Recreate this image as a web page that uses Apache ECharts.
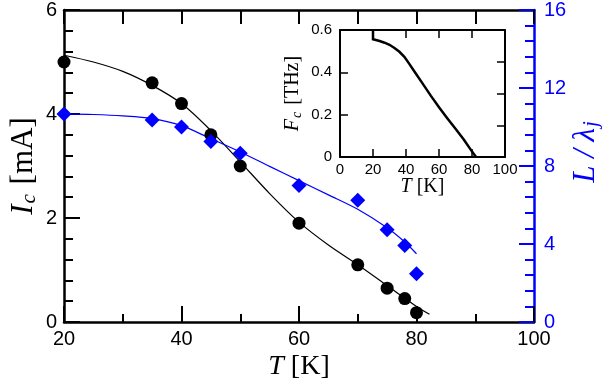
<!DOCTYPE html>
<html>
<head>
<meta charset="utf-8">
<script src="https://cdn.jsdelivr.net/npm/echarts@6/dist/echarts.min.js"></script>
<style>html,body{margin:0;padding:0;background:#fff}#c{width:610px;height:386px}</style>
</head>
<body>
<div id="c"></div>
<script>
// Measured data
var tempIc = [20, 35, 40, 45, 50, 60, 70, 75, 78, 80];
var icValues = [5.0, 4.6, 4.2, 3.6, 3.0, 1.9, 1.1, 0.65, 0.45, 0.18];
var tempL = [20, 35, 40, 45, 50, 60, 70, 75, 78, 80];
var lValues = [10.67, 10.36, 10.0, 9.26, 8.65, 7.0, 6.24, 4.73, 3.92, 2.47];
// Fit curves
var icFitT = [20, 25, 30, 35, 40, 45, 50, 55, 60, 65, 70, 75, 80, 82.2];
var icFitV = [5.13, 5.0, 4.82, 4.55, 4.2, 3.68, 3.08, 2.47, 1.92, 1.48, 1.1, 0.7, 0.3, 0.15];
var lFitT = [20, 25, 30, 35, 40, 45, 50, 55, 60, 65, 70, 75, 78, 80];
var lFitV = [10.67, 10.64, 10.57, 10.43, 10.07, 9.4, 8.72, 7.98, 7.25, 6.52, 5.78, 4.83, 4.1, 3.5];
// Inset curve
var fcT = [20, 20, 24, 27, 30, 33, 36, 39, 42, 45, 50, 55, 60, 65, 70, 75, 79, 81, 82.5];
var fcV = [0.6, 0.556, 0.548, 0.54, 0.53, 0.515, 0.497, 0.473, 0.44, 0.405, 0.348, 0.29, 0.235, 0.183, 0.133, 0.083, 0.037, 0.015, 0];
// Tick settings
var mainXTicks = {min: 20, max: 100, interval: 20};
var leftYTicks = {min: 0, max: 6, interval: 2};
var rightYTicks = {min: 0, max: 16, interval: 4};
var insetXTicks = {min: 0, max: 100, interval: 20};
var insetYTicks = {min: 0, max: 0.6, interval: 0.2};
// Axis titles
var xTitle = '{i|T}{n| [K]}';
var leftTitle = '{i|I}{s|c}{n| [mA]}';
var rightTitle = '{i|L / λ}{s|j}';
var insetXTitle = '{i|T}{n| [K]}';
var insetYTitle = '{i|F}{s|c}{n| [THz]}';

function zip(a, b) { return a.map(function (v, i) { return [v, b[i]]; }); }

var BLUE = '#0000ff';
var sans = 'Liberation Sans';
var serif = 'Liberation Serif';

function richStyle(size, color) {
  return {
    i: {fontFamily: serif, fontStyle: 'italic', fontSize: size, color: color, lineHeight: size + 2},
    s: {fontFamily: serif, fontStyle: 'italic', fontSize: Math.round(size * 0.68), color: color, verticalAlign: 'bottom', lineHeight: size + 2, padding: [0, 2, 0, 1]},
    n: {fontFamily: serif, fontSize: size, color: color, lineHeight: size + 2}
  };
}

function curveSeries(xs, ys, xi, yi, color, width, smooth) {
  return {
    type: 'custom', xAxisIndex: xi, yAxisIndex: yi, silent: true,
    data: [[xs[0], ys[0]]],
    renderItem: function (params, api) {
      var pts = xs.map(function (x, i) { return api.coord([x, ys[i]]); });
      return {type: 'polyline', shape: {points: pts, smooth: smooth},
              style: {stroke: color, lineWidth: width, fill: null}};
    }
  };
}

var chart = echarts.init(document.getElementById('c'));
chart.setOption({
  animation: false,
  backgroundColor: '#fff',
  grid: [
    {left: 60, top: 8, width: 478, height: 318},
    {left: 340, top: 30, width: 165, height: 127}
  ],
  xAxis: [
    {gridIndex: 0, type: 'value', position: 'bottom', min: mainXTicks.min, max: mainXTicks.max, interval: mainXTicks.interval,
     name: xTitle, nameLocation: 'middle', nameGap: 30, nameMoveOverlap: false,
     nameTextStyle: {rich: richStyle(28, '#000')},
     axisLine: {show: true, onZero: false, lineStyle: {color: '#000', width: 2.5}},
     axisTick: {show: true, interval: 0, inside: true, length: 16, lineStyle: {color: '#000', width: 2}},
     minorTick: {show: true, splitNumber: 2, length: 8, lineStyle: {color: '#000', width: 2}},
     axisLabel: {color: '#000', fontFamily: sans, fontSize: 20, margin: 7},
     splitLine: {show: false}},
    {gridIndex: 0, type: 'value', position: 'top', min: mainXTicks.min, max: mainXTicks.max, interval: 10,
     axisLine: {show: true, onZero: false, lineStyle: {color: '#000', width: 2.5}},
     axisTick: {show: true, interval: 0, inside: true, length: 14, lineStyle: {color: '#000', width: 2}},
     axisLabel: {show: false}, splitLine: {show: false}},
    {gridIndex: 1, type: 'value', position: 'bottom', min: insetXTicks.min, max: insetXTicks.max, interval: insetXTicks.interval,
     name: insetXTitle, nameLocation: 'middle', nameGap: 19, nameMoveOverlap: false,
     nameTextStyle: {rich: richStyle(20, '#000')},
     axisLine: {show: true, onZero: false, lineStyle: {color: '#000', width: 2}},
     axisTick: {show: true, interval: 0, inside: true, length: 8, lineStyle: {color: '#000', width: 1.5}},
     axisLabel: {color: '#000', fontFamily: sans, fontSize: 15, margin: 5},
     splitLine: {show: false}},
    {gridIndex: 1, type: 'value', position: 'top', min: insetXTicks.min, max: insetXTicks.max, interval: insetXTicks.interval,
     axisLine: {show: true, onZero: false, lineStyle: {color: '#000', width: 2}},
     axisTick: {show: true, interval: 0, inside: true, length: 8, lineStyle: {color: '#000', width: 1.5}},
     axisLabel: {show: false}, splitLine: {show: false}}
  ],
  yAxis: [
    {gridIndex: 0, type: 'value', position: 'left', min: leftYTicks.min, max: leftYTicks.max, interval: leftYTicks.interval,
     name: leftTitle, nameLocation: 'middle', nameGap: 24, nameMoveOverlap: false,
     nameTextStyle: {rich: richStyle(31, '#000')},
     axisLine: {show: true, onZero: false, lineStyle: {color: '#000', width: 2.5}},
     axisTick: {show: true, interval: 0, inside: true, length: 16, lineStyle: {color: '#000', width: 2}},
     minorTick: {show: true, splitNumber: 5, length: 9, lineStyle: {color: '#000', width: 2}},
     axisLabel: {color: '#000', fontFamily: sans, fontSize: 20, margin: 7},
     splitLine: {show: false}},
    {gridIndex: 0, type: 'value', position: 'right', min: rightYTicks.min, max: rightYTicks.max, interval: rightYTicks.interval,
     name: rightTitle, nameLocation: 'middle', nameGap: 35, nameMoveOverlap: false,
     nameTextStyle: {rich: richStyle(31, BLUE), padding: [0, 0, 0, 30]},
     axisLine: {show: true, onZero: false, lineStyle: {color: BLUE, width: 2.5}},
     axisTick: {show: true, interval: 0, inside: true, length: 15, lineStyle: {color: BLUE, width: 2}},
     minorTick: {show: true, splitNumber: 5, length: 9, lineStyle: {color: BLUE, width: 2}},
     axisLabel: {color: BLUE, fontFamily: sans, fontSize: 20, margin: 10},
     splitLine: {show: false}},
    {gridIndex: 1, type: 'value', position: 'left', min: insetYTicks.min, max: insetYTicks.max, interval: insetYTicks.interval,
     name: insetYTitle, nameLocation: 'middle', nameGap: 36, nameMoveOverlap: false,
     nameTextStyle: {rich: richStyle(20, '#000')},
     axisLine: {show: true, onZero: false, lineStyle: {color: '#000', width: 2}},
     axisTick: {show: true, interval: 0, inside: true, length: 8, lineStyle: {color: '#000', width: 1.5}},
     axisLabel: {color: '#000', fontFamily: sans, fontSize: 15, margin: 8},
     splitLine: {show: false}},
    {gridIndex: 1, type: 'value', position: 'right', min: 0, max: 0.6, interval: 0.15,
     axisLine: {show: true, onZero: false, lineStyle: {color: '#000', width: 2}},
     axisTick: {show: true, interval: 0, inside: true, length: 8, lineStyle: {color: '#000', width: 1.5}},
     axisLabel: {show: false}, splitLine: {show: false}}
  ],
  series: [
    curveSeries(icFitT, icFitV, 0, 0, '#000', 1.2, 0.3),
    curveSeries(lFitT, lFitV, 0, 1, BLUE, 1.2, 0.3),
    {type: 'scatter', xAxisIndex: 0, yAxisIndex: 0, data: zip(tempIc, icValues), symbol: 'circle', symbolSize: 13,
     itemStyle: {color: '#000', opacity: 1}},
    {type: 'scatter', xAxisIndex: 0, yAxisIndex: 1, data: zip(tempL, lValues), symbol: 'diamond', symbolSize: 15,
     itemStyle: {color: BLUE, opacity: 1}},
    curveSeries(fcT, fcV, 2, 2, '#000', 2.5, 0)
  ]
});
</script>
</body>
</html>
